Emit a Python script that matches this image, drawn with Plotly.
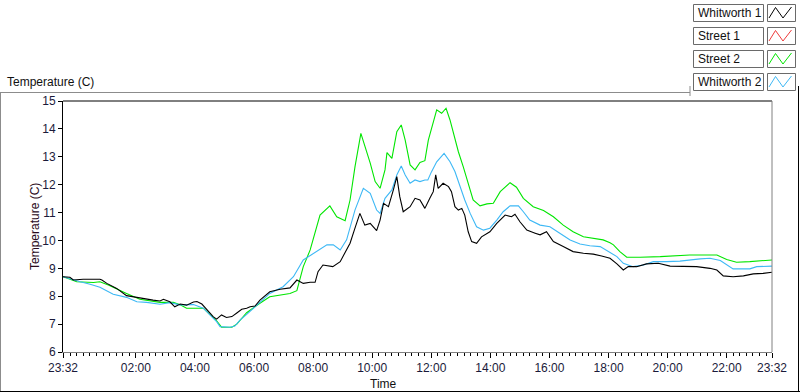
import pandas as pd
import plotly.graph_objects as go

# ---------------- data (minutes after 23:32 start, temperature in C) ----------------
start_time = "2014-01-01 23:32"

w1_min = [0, 14, 21, 41, 75, 79, 89, 109, 129, 150, 170, 183, 197, 204, 217, 227, 238, 251, 265, 272,
          282, 292, 305, 312, 322, 332, 343, 353, 363, 373, 380, 390, 400, 420, 441, 461, 475, 488, 502,
          512, 518, 528, 548, 563, 573, 583, 593, 603, 613, 624, 637, 644, 651, 661, 671, 678, 684, 691,
          705, 715, 725, 735, 745, 752, 757, 762, 772, 783, 789, 796, 803, 810, 816, 823, 830, 840, 850,
          867, 881, 898, 911, 918, 928, 942, 959, 969, 982, 996, 1016, 1036, 1057, 1077, 1094, 1111, 1125,
          1138, 1148, 1165, 1185, 1209, 1233, 1253, 1287, 1314, 1328, 1341, 1361, 1382, 1402, 1422, 1440]
w1_val = [8.70, 8.68, 8.58, 8.61, 8.61, 8.58, 8.46, 8.28, 8.02, 7.95, 7.91, 7.86, 7.83, 7.89, 7.80, 7.62,
          7.72, 7.68, 7.79, 7.81, 7.72, 7.51, 7.27, 7.18, 7.33, 7.24, 7.27, 7.40, 7.53, 7.57, 7.62, 7.65,
          7.86, 8.16, 8.25, 8.30, 8.58, 8.46, 8.50, 8.50, 8.88, 9.12, 9.06, 9.24, 9.60, 9.90, 10.44, 10.97,
          10.55, 10.61, 10.35, 10.73, 11.33, 11.21, 11.81, 12.29, 11.57, 11.03, 11.21, 11.51, 11.45, 11.15,
          11.51, 11.75, 12.35, 11.87, 12.05, 11.93, 11.75, 11.21, 11.09, 11.15, 10.91, 10.31, 9.96, 9.90,
          10.13, 10.31, 10.61, 10.91, 10.85, 10.94, 10.67, 10.37, 10.26, 10.20, 10.31, 9.96, 9.78, 9.60,
          9.54, 9.51, 9.44, 9.36, 9.16, 8.94, 9.06, 9.06, 9.16, 9.18, 9.08, 9.08, 9.06, 9.00, 8.94, 8.73,
          8.70, 8.73, 8.80, 8.82, 8.86]

s2_min = [0, 28, 62, 75, 92, 109, 129, 156, 177, 197, 224, 238, 251, 285, 299, 312, 322, 343, 353, 373,
          400, 420, 461, 475, 488, 502, 522, 542, 556, 573, 583, 593, 605, 613, 624, 634, 644, 654, 658,
          668, 678, 687, 695, 705, 715, 725, 735, 742, 749, 759, 769, 778, 786, 793, 803, 813, 823, 833,
          847, 861, 874, 888, 908, 921, 935, 955, 976, 996, 1016, 1036, 1057, 1077, 1097, 1111, 1118, 1131,
          1145, 1172, 1213, 1273, 1328, 1348, 1368, 1395, 1416, 1440]
s2_val = [8.70, 8.52, 8.49, 8.52, 8.40, 8.25, 8.10, 7.89, 7.83, 7.78, 7.78, 7.69, 7.57, 7.57, 7.33, 7.12,
          6.89, 6.89, 7.00, 7.41, 7.75, 7.98, 8.10, 8.20, 9.06, 9.66, 10.91, 11.24, 10.85, 10.71, 11.45,
          12.64, 13.84, 13.42, 12.77, 12.11, 11.87, 12.53, 13.15, 12.94, 13.90, 14.14, 13.60, 12.71, 12.53,
          12.80, 12.86, 13.60, 14.08, 14.68, 14.56, 14.74, 14.32, 13.84, 13.18, 12.64, 12.05, 11.45, 11.24,
          11.31, 11.33, 11.75, 12.07, 11.91, 11.51, 11.21, 11.07, 10.85, 10.55, 10.31, 10.13, 10.08, 10.02,
          9.92, 9.84, 9.60, 9.40, 9.40, 9.42, 9.48, 9.48, 9.32, 9.22, 9.24, 9.26, 9.30]

w2_min = [0, 14, 35, 55, 75, 102, 129, 150, 170, 197, 217, 238, 251, 265, 285, 299, 312, 319, 339, 349,
          360, 373, 387, 400, 420, 447, 468, 488, 515, 536, 549, 563, 576, 593, 610, 624, 637, 644, 654,
          668, 678, 687, 695, 705, 715, 725, 735, 741, 748, 759, 774, 786, 796, 806, 816, 827, 840, 854,
          867, 881, 894, 908, 925, 935, 948, 969, 989, 1009, 1030, 1050, 1070, 1091, 1111, 1125, 1138,
          1158, 1179, 1199, 1226, 1253, 1294, 1314, 1335, 1361, 1395, 1409, 1440]
w2_val = [8.70, 8.62, 8.52, 8.43, 8.32, 8.07, 7.96, 7.80, 7.78, 7.71, 7.77, 7.69, 7.69, 7.70, 7.57, 7.33,
          7.09, 6.91, 6.89, 6.93, 7.15, 7.35, 7.57, 7.77, 8.10, 8.34, 8.70, 9.30, 9.60, 9.84, 9.84, 9.66,
          10.02, 11.09, 11.87, 11.69, 11.09, 10.97, 11.51, 11.81, 12.35, 12.67, 12.35, 12.05, 12.17, 12.11,
          12.17, 12.17, 12.45, 12.82, 13.12, 12.82, 12.47, 11.95, 11.45, 10.97, 10.49, 10.37, 10.44, 10.73,
          11.03, 11.24, 11.24, 11.03, 10.73, 10.55, 10.49, 10.26, 10.02, 9.87, 9.81, 9.78, 9.56, 9.42, 9.18,
          9.06, 9.12, 9.24, 9.24, 9.26, 9.34, 9.36, 9.28, 8.98, 8.98, 9.06, 9.08]

s1_min = []
s1_val = []

series_names = ["Whitworth 1", "Street 1", "Street 2", "Whitworth 2"]
series_colors = ["#000000", "#EE3B3B", "#00E600", "#3DB8F5"]

x_tick_labels = ["23:32", "02:00", "04:00", "06:00", "08:00", "10:00", "12:00",
                 "14:00", "16:00", "18:00", "20:00", "22:00", "23:32"]
y_range = [6, 15]
total_minutes = 1440
minor_step_ms = 800000  # 2 h / 9

# ---------------- build ----------------
t0 = pd.Timestamp(start_time)
t1 = t0 + pd.Timedelta(minutes=total_minutes)
day2 = pd.Timestamp(t0.date()) + pd.Timedelta(days=1)


def to_time(mins):
    return [t0 + pd.Timedelta(minutes=m) for m in mins]


tick_vals = []
for i, lab in enumerate(x_tick_labels):
    if i == 0:
        tick_vals.append(t0)
    elif i == len(x_tick_labels) - 1:
        tick_vals.append(t1)
    else:
        hh, mm = map(int, lab.split(":"))
        tick_vals.append(day2 + pd.Timedelta(hours=hh, minutes=mm))

fig = go.Figure()
data = [(w1_min, w1_val), (s1_min, s1_val), (s2_min, s2_val), (w2_min, w2_val)]
for idx in [1, 2, 3, 0]:
    mins, vals = data[idx]
    fig.add_trace(go.Scatter(x=to_time(mins), y=vals, mode="lines", name=series_names[idx],
                             line=dict(color=series_colors[idx], width=1.1), showlegend=False,
                             hoverinfo="skip"))
# invisible trace to activate the minor-tick axis
fig.add_trace(go.Scatter(x=[t0, t1], y=[None, None], xaxis="x2", mode="lines",
                         showlegend=False, hoverinfo="skip"))

W, H = 800, 392
L, R, T, B = 63, 772, 101, 352


def px(xp):
    return (xp - L) / (R - L)


def py(yp):
    return (B - yp) / (B - T)


FONT = "Liberation Sans"
shapes = []
annotations = []

shapes.append(dict(type="line", xref="paper", yref="paper", x0=0, x1=1, y0=1, y1=1,
                   line=dict(color="#000000", width=1)))
shapes.append(dict(type="line", xref="paper", yref="paper", x0=1, x1=1, y0=0, y1=1,
                   line=dict(color="#808080", width=1)))
shapes.append(dict(type="line", xref="paper", yref="paper", x0=px(0), x1=px(690), y0=py(92.5), y1=py(92.5),
                   line=dict(color="#8c8c8c", width=1)))
shapes.append(dict(type="line", xref="paper", yref="paper", x0=px(0.5), x1=px(0.5), y0=py(92.5), y1=py(392),
                   line=dict(color="#8c8c8c", width=1)))
shapes.append(dict(type="line", xref="paper", yref="paper", x0=px(690), x1=px(690), y0=py(86), y1=py(96),
                   line=dict(color="#8c8c8c", width=1)))
shapes.append(dict(type="line", xref="paper", yref="paper", x0=px(0), x1=px(800), y0=py(391.5), y1=py(391.5),
                   line=dict(color="#000000", width=1)))
shapes.append(dict(type="line", xref="paper", yref="paper", x0=px(798.5), x1=px(798.5), y0=py(86), y1=py(392),
                   line=dict(color="#000000", width=1)))

for i, (name, col) in enumerate(zip(series_names, series_colors)):
    top = 4 + 23 * i
    bot = top + 17
    shapes.append(dict(type="rect", xref="paper", yref="paper", x0=px(693.5), x1=px(763.5),
                       y0=py(bot + 0.5), y1=py(top + 0.5), line=dict(color="#6a6a6a", width=1),
                       fillcolor="white"))
    shapes.append(dict(type="rect", xref="paper", yref="paper", x0=px(767.5), x1=px(795.5),
                       y0=py(bot + 0.5), y1=py(top + 0.5), line=dict(color="#6a6a6a", width=1),
                       fillcolor="white"))
    pts = [(769, bot - 3), (775.5, top + 3.5), (783, bot - 3), (791.5, top + 3)]
    path = "M " + " L ".join(f"{px(a):.5f},{py(b):.5f}" for a, b in pts)
    shapes.append(dict(type="path", xref="paper", yref="paper", path=path,
                       line=dict(color=col, width=1)))
    annotations.append(dict(text=name, xref="paper", yref="paper", x=px(695.5), y=py(top + 9),
                            xanchor="left", yanchor="middle", showarrow=False,
                            font=dict(family=FONT, size=12, color="#111111")))

annotations.append(dict(text="Temperature (C)", xref="paper", yref="paper", x=px(5), y=py(82),
                        xanchor="left", yanchor="middle", showarrow=False,
                        font=dict(family=FONT, size=12, color="#111111")))
annotations.append(dict(text="Temperature (C)", xref="paper", yref="paper", x=px(35), y=py(227),
                        xanchor="center", yanchor="middle", textangle=-90, showarrow=False,
                        font=dict(family=FONT, size=12, color="#2a0a1a")))
annotations.append(dict(text="Time", xref="paper", yref="paper", x=px(383), y=py(384),
                        xanchor="center", yanchor="middle", showarrow=False,
                        font=dict(family=FONT, size=12, color="#111111")))

fig.update_layout(
    width=W, height=H,
    margin=dict(l=L, r=W - R, t=T, b=H - B, pad=0, autoexpand=False),
    paper_bgcolor="white", plot_bgcolor="white",
    showlegend=False, hovermode=False,
    shapes=shapes, annotations=annotations,
    xaxis=dict(type="date", range=[t0, t1],
               tickvals=tick_vals, ticktext=x_tick_labels, ticks="outside", ticklen=5,
               tickcolor="#000000", tickwidth=1, showgrid=False, zeroline=False,
               showline=True, linecolor="#808080", linewidth=1,
               tickfont=dict(family=FONT, size=12, color="#1a1a3a")),
    xaxis2=dict(type="date", range=[t0, t1], overlaying="x", side="bottom", anchor="y",
                tickmode="linear", tick0=day2 + pd.Timedelta(hours=2), dtick=minor_step_ms,
                ticks="outside", ticklen=3, tickcolor="#000000", tickwidth=1,
                showticklabels=False, showgrid=False, zeroline=False, showline=False),
    yaxis=dict(range=y_range, dtick=1, ticks="outside", ticklen=4, tickcolor="#000000",
               showgrid=False, zeroline=False, showline=True, linecolor="#000000", linewidth=1,
               tickfont=dict(family=FONT, size=12, color="#1a1a3a")),
)

fig.write_html("out.html", config={"displayModeBar": False, "staticPlot": True},
               post_script="document.body.style.margin='0';document.body.style.overflow='hidden';")
